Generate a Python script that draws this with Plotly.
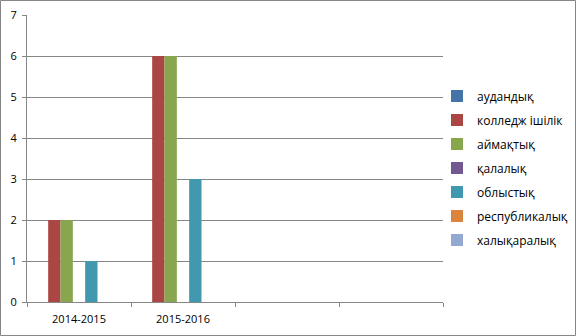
import plotly.graph_objects as go

categories = ["2014-2015", "2015-2016", " ", "  "]
series_names = ["аудандық", "колледж ішілік", "аймақтық", "қалалық",
                "облыстық", "республикалық", "халықаралық"]
values = {
    "аудандық":       [0, 0, None, None],
    "колледж ішілік": [2, 6, None, None],
    "аймақтық":       [2, 6, None, None],
    "қалалық":        [0, 0, None, None],
    "облыстық":       [1, 3, None, None],
    "республикалық":  [0, 0, None, None],
    "халықаралық":    [0, 0, None, None],
}
colors = ["#4572A7", "#AA4643", "#89A54E", "#71588F", "#4198AF", "#DB843D", "#93A9CF"]
y_ticks = [0, 1, 2, 3, 4, 5, 6, 7]

W, H = 576, 336
L, R, T, B = 27, 133, 15, 34
pw, ph = W - L - R, H - T - B

fig = go.Figure()
for name, c in zip(series_names, colors):
    fig.add_trace(go.Bar(x=categories, y=values[name], name=name, legendgroup=name,
                         marker=dict(color=c, line=dict(width=0))))

axis_col = "#868686"
fig.update_layout(
    width=W, height=H,
    margin=dict(l=L, r=R, t=T, b=B, autoexpand=False),
    paper_bgcolor="white", plot_bgcolor="white",
    barmode="group", bargap=0.17, bargroupgap=0,
    font=dict(family="Open Sans", size=11, color="#000000"),
    showlegend=True,
    legend=dict(x=(437 - L) / pw, xanchor="left", y=(302 - 168) / ph, yanchor="middle",
                font=dict(size=12), tracegroupgap=5, itemwidth=30,
                bgcolor="rgba(0,0,0,0)"),
    xaxis=dict(type="category", categoryorder="array", categoryarray=categories,
               range=[-0.5, 3.5], tickson="boundaries", ticks="outside", ticklen=4,
               tickcolor=axis_col, showline=True, linecolor=axis_col, linewidth=1,
               showgrid=False, tickfont=dict(size=11), ticklabelstandoff=7,
               fixedrange=True, automargin=False),
    yaxis=dict(range=[0, 7], tickvals=y_ticks, ticks="outside", ticklen=4,
               tickcolor=axis_col, showline=True, linecolor=axis_col, linewidth=1,
               showgrid=True, gridcolor=axis_col, gridwidth=1, zeroline=False,
               tickfont=dict(size=11), ticklabelstandoff=3,
               fixedrange=True, automargin=False),
)
fig.add_shape(type="rect", xref="paper", yref="paper",
              x0=(0.5 - L) / pw, x1=(W - 0.5 - L) / pw,
              y0=(T + ph - (H - 0.5)) / ph, y1=(T + ph - 0.5) / ph,
              line=dict(color=axis_col, width=1), fillcolor="rgba(0,0,0,0)", layer="below")
fig.write_html("out.html")
